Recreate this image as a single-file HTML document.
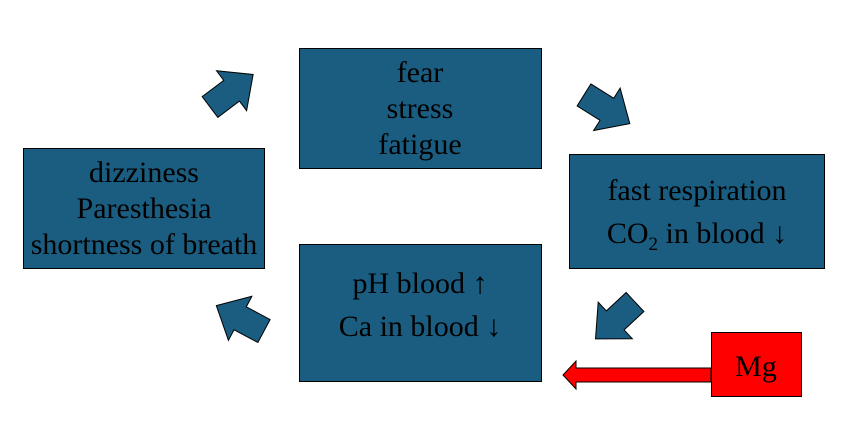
<!DOCTYPE html>
<html><head><style>
body{margin:0;background:#fff;}
text{font-family:"Liberation Serif",serif;font-size:30px;fill:#000;}
</style></head><body>
<svg width="847" height="419" viewBox="0 0 847 419" xmlns="http://www.w3.org/2000/svg">
<defs>
<polygon id="ar" points="0,-13 27,-13 27,-25 54,0 27,25 27,13 0,13" fill="#1a5d80" stroke="#000" stroke-width="1"/>
</defs>
<rect x="299.5" y="48.5" width="242" height="120" fill="#1a5d80" stroke="#000"/>
<text x="420" y="82" text-anchor="middle">fear</text>
<text x="420" y="118" text-anchor="middle">stress</text>
<text x="420" y="154" text-anchor="middle">fatigue</text>
<rect x="569.5" y="154.5" width="255" height="114" fill="#1a5d80" stroke="#000"/>
<text x="697" y="200" text-anchor="middle">fast respiration</text>
<text x="697" y="243" text-anchor="middle">CO<tspan style="font-size:19px" dy="7">2</tspan><tspan dy="-7"> in blood ↓</tspan></text>
<rect x="299.5" y="244.5" width="242" height="137" fill="#1a5d80" stroke="#000"/>
<text x="420" y="293" text-anchor="middle">pH blood ↑</text>
<text x="420" y="336" text-anchor="middle">Ca in blood ↓</text>
<rect x="23.5" y="148.5" width="241" height="120" fill="#1a5d80" stroke="#000"/>
<text x="144" y="182" text-anchor="middle">dizziness</text>
<text x="144" y="218" text-anchor="middle">Paresthesia</text>
<text x="144" y="254" text-anchor="middle">shortness of breath</text>
<use href="#ar" transform="translate(210,107) rotate(-37)"/>
<use href="#ar" transform="translate(584,95) rotate(32)"/>
<use href="#ar" transform="translate(635,302) rotate(137)"/>
<use href="#ar" transform="translate(264,331) rotate(208)"/>
<polygon points="711,368 576,368 576,361 563,375 576,389 576,382 711,382" fill="#f00" stroke="#000" stroke-width="1"/>
<rect x="711.5" y="332.5" width="90" height="64" fill="#f00" stroke="#000"/>
<text x="756" y="376" text-anchor="middle" style="font-size:30px">Mg</text>
</svg>
</body></html>
